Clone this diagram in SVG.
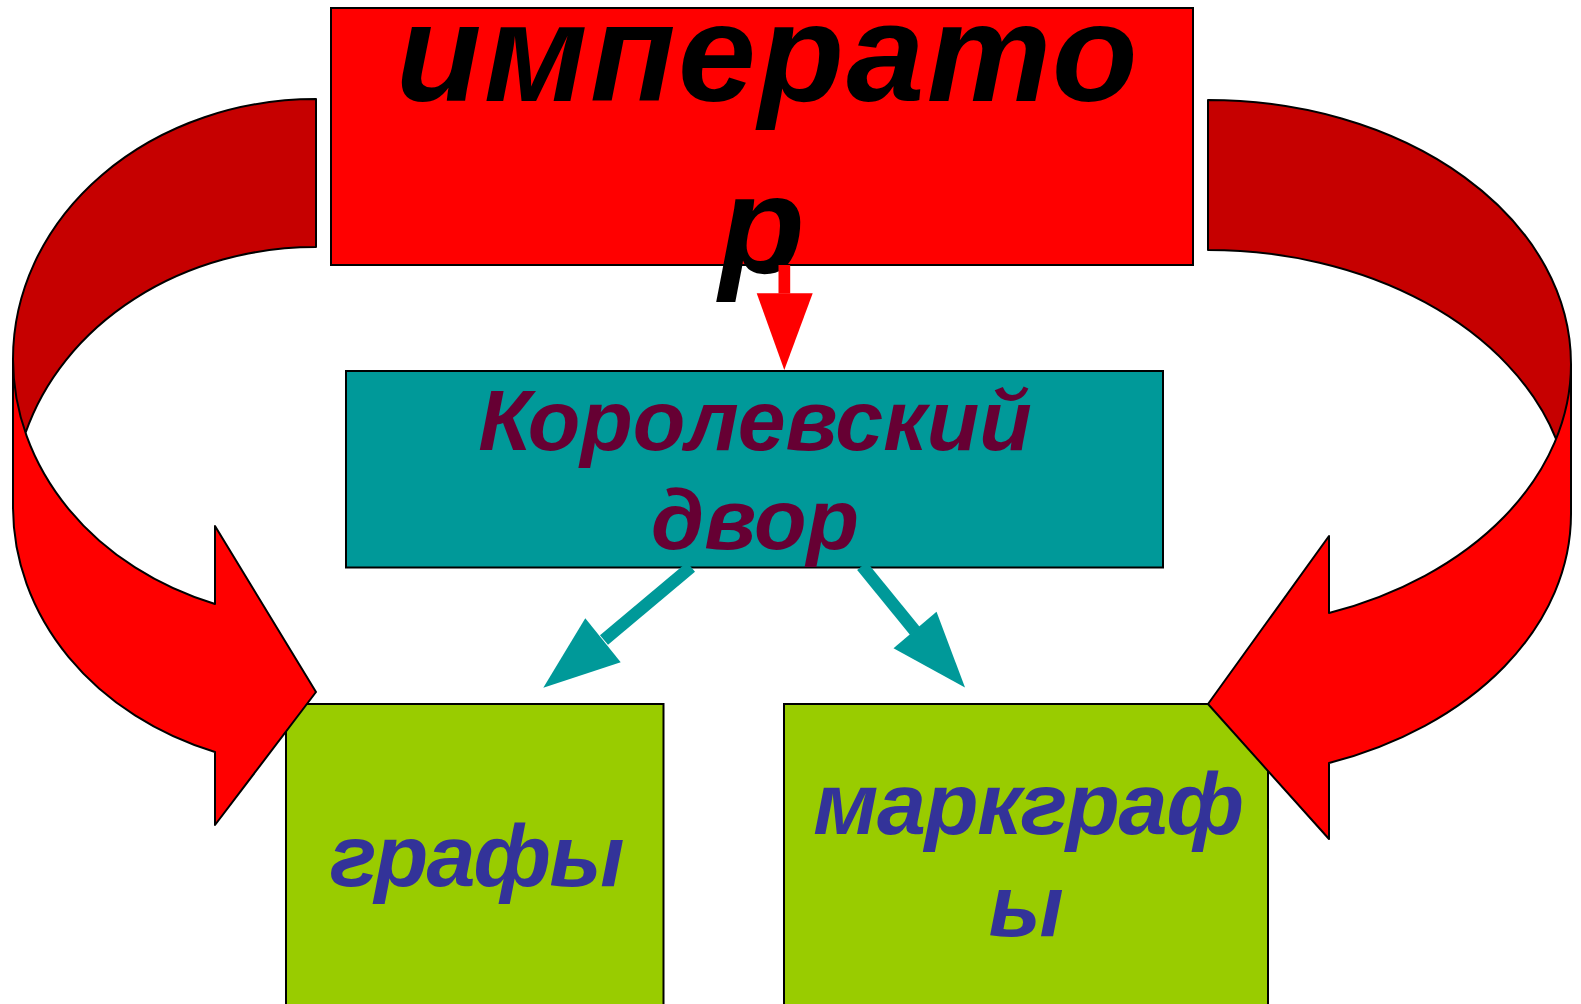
<svg xmlns="http://www.w3.org/2000/svg" width="1581" height="1004" viewBox="0 0 1581 1004">
<style>
.t{font-family:"Liberation Sans",Arial,sans-serif;font-weight:bold;font-style:italic;text-anchor:middle}
.box{stroke:#000;stroke-width:2}
.front{fill:#FF0000;stroke:none}
.back{fill:#C60000;stroke:none}
.outl{fill:none;stroke:#000;stroke-width:2;stroke-linejoin:round}
.teal{fill:#009999}
</style>
<rect width="1581" height="1004" fill="#fff"/>
<g id="grafy">
<rect class="box" x="286" y="704" width="377.5" height="310" fill="#99CC00" stroke-width="1.5"/>
<text class="t" x="476" y="886" font-size="88" fill="#333399" letter-spacing="-2">графы</text>
</g>
<g id="markgrafy">
<rect class="box" x="784" y="704" width="484" height="310" fill="#99CC00" stroke-width="1.5"/>
<text class="t" x="1028" y="834" font-size="88" fill="#333399" letter-spacing="-1.3">маркграф</text>
<text class="t" x="1026" y="936" font-size="88" fill="#333399">ы</text>
</g>
<g id="imperator">
<rect class="box" x="331" y="8" width="862" height="257" fill="#FF0000"/>
<text class="t" x="768" y="101" font-size="140" fill="#000" letter-spacing="2.5">императо</text>
<text class="t" x="762" y="273" font-size="140" fill="#000">р</text>
</g>
<g id="dvor">
<rect class="box" x="346" y="371" width="817" height="196.5" fill="#009999"/>
<text class="t" x="755" y="450" font-size="86" fill="#660033">Королевский</text>
<text class="t" x="755" y="549" font-size="86" fill="#660033">двор</text>
</g>
<g id="connectors">
<g id="arrow-imperator-dvor">
<rect x="778.5" y="265" width="11.7" height="28.5" fill="#FF0000"/>
<polygon points="756.7,293.3 812.7,293.3 784.3,370" fill="#FF0000"/>
</g>
<g id="arrow-dvor-grafy">
<line x1="691" y1="567" x2="604" y2="640" stroke="#009999" stroke-width="12.5"/>
<polygon class="teal" points="585.3,618.2 543.3,687.8 620.7,662.2"/>
</g>
<g id="arrow-dvor-markgrafy">
<line x1="862" y1="566" x2="915" y2="631" stroke="#009999" stroke-width="12.5"/>
<polygon class="teal" points="936.5,611.7 965,687.5 893.5,648.3"/>
</g>
<g id="curved-left">
<path class="front" d="M 13,359 A 303 260 0 0 0 215,604 L 215,526 L 316,692 L 215,825 L 215,752 A 303 260 0 0 1 13,507 Z"/>
<path class="back" d="M 316,99 A 303 260 0 0 0 25.5,433 A 303 260 0 0 1 316,247 Z"/>
<path class="outl" d="M 13,359 A 303 260 0 0 0 215,604 L 215,526 L 316,692 L 215,825 L 215,752 A 303 260 0 0 1 13,507 L 13,359 A 303 260 0 0 1 316,99 L 316,247 A 303 260 0 0 0 25.5,433"/>
</g>
<g id="curved-right">
<path class="front" d="M 1571,364 A 363 264 0 0 1 1329,613 L 1329,536 L 1208,704 L 1329,839 L 1329,763 A 363 264 0 0 0 1571,514 Z"/>
<path class="back" d="M 1208,100 A 363 264 0 0 1 1556.1,439 A 363 264 0 0 0 1208,250 Z"/>
<path class="outl" d="M 1571,364 A 363 264 0 0 1 1329,613 L 1329,536 L 1208,704 L 1329,839 L 1329,763 A 363 264 0 0 0 1571,514 L 1571,364 A 363 264 0 0 0 1208,100 L 1208,250 A 363 264 0 0 1 1556.1,439"/>
</g>
</g>
</svg>
